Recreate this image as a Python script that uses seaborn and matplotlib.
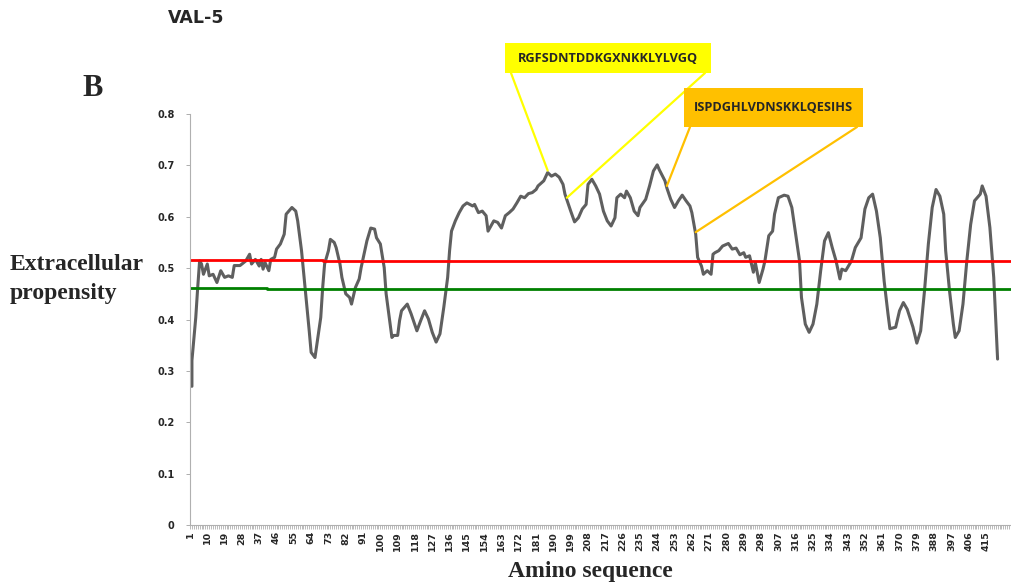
import numpy as np
import matplotlib
matplotlib.use("Agg")
import matplotlib.pyplot as plt
from matplotlib.patches import Rectangle, ConnectionPatch
import seaborn as sns

# Extracellular propensity profile along the VAL-5 sequence (residue, score)
residues = [1, 2, 2, 4, 5, 6, 7, 8, 10, 11, 13, 15, 17, 19, 21, 23, 24, 27, 30, 32,
            33, 35, 37, 38, 39, 40, 42, 43, 45, 46, 48, 50, 51, 54, 56, 57, 59, 61, 63, 64,
            66, 67, 69, 70, 71, 73, 74, 76, 77, 79, 80, 82, 84, 85, 87, 89, 90, 93, 95, 97,
            98, 100, 102, 103, 106, 107, 109, 110, 111, 114, 116, 119, 121, 123, 125, 127, 129, 131, 133, 135,
            136, 137, 139, 141, 143, 145, 148, 149, 151, 153, 155, 156, 159, 161, 163, 165, 167, 169, 171, 173,
            175, 177, 179, 181, 182, 185, 187, 189, 191, 193, 195, 196, 199, 201, 203, 205, 207, 208, 210, 212,
            214, 216, 218, 220, 222, 223, 225, 227, 228, 230, 232, 234, 235, 238, 240, 242, 244, 245, 248, 249,
            251, 253, 255, 257, 259, 261, 262, 264, 265, 267, 268, 270, 272, 273, 274, 276, 278, 281, 283, 285,
            287, 289, 290, 292, 294, 295, 297, 299, 300, 302, 304, 305, 307, 310, 312, 314, 316, 318, 319, 321,
            323, 325, 327, 329, 331, 333, 335, 337, 339, 340, 342, 345, 347, 350, 352, 354, 356, 358, 360, 362,
            364, 365, 368, 370, 372, 374, 377, 379, 381, 383, 385, 387, 389, 391, 393, 394, 396, 398, 399, 401,
            403, 405, 407, 409, 412, 413, 415, 417, 419, 421]
propensity = [0.271, 0.270, 0.320, 0.404, 0.462, 0.514, 0.508, 0.488, 0.508, 0.485, 0.488, 0.472, 0.495, 0.482, 0.485, 0.482, 0.505, 0.505, 0.514, 0.527,
              0.508, 0.517, 0.504, 0.517, 0.498, 0.511, 0.495, 0.517, 0.521, 0.537, 0.547, 0.566, 0.605, 0.618, 0.611, 0.592, 0.534, 0.456, 0.378, 0.336,
              0.326, 0.352, 0.404, 0.462, 0.508, 0.534, 0.556, 0.550, 0.540, 0.508, 0.482, 0.450, 0.443, 0.430, 0.462, 0.479, 0.501, 0.553, 0.578, 0.576,
              0.559, 0.547, 0.501, 0.450, 0.365, 0.369, 0.369, 0.398, 0.417, 0.430, 0.411, 0.378, 0.398, 0.417, 0.401, 0.375, 0.356, 0.372, 0.424, 0.482,
              0.534, 0.572, 0.592, 0.608, 0.621, 0.627, 0.621, 0.624, 0.608, 0.611, 0.602, 0.572, 0.592, 0.589, 0.578, 0.602, 0.608, 0.615, 0.627, 0.640,
              0.637, 0.645, 0.647, 0.653, 0.660, 0.670, 0.686, 0.679, 0.683, 0.677, 0.663, 0.644, 0.611, 0.590, 0.598, 0.615, 0.624, 0.663, 0.673, 0.660,
              0.644, 0.611, 0.592, 0.582, 0.598, 0.637, 0.644, 0.637, 0.650, 0.637, 0.611, 0.602, 0.618, 0.634, 0.660, 0.689, 0.701, 0.692, 0.670, 0.656,
              0.634, 0.618, 0.631, 0.642, 0.631, 0.621, 0.608, 0.566, 0.521, 0.504, 0.488, 0.495, 0.488, 0.527, 0.530, 0.534, 0.543, 0.548, 0.537, 0.539,
              0.526, 0.530, 0.521, 0.524, 0.492, 0.511, 0.472, 0.498, 0.514, 0.563, 0.572, 0.605, 0.637, 0.642, 0.640, 0.618, 0.566, 0.514, 0.443, 0.391,
              0.375, 0.391, 0.430, 0.495, 0.553, 0.569, 0.540, 0.514, 0.479, 0.498, 0.495, 0.514, 0.540, 0.559, 0.615, 0.637, 0.644, 0.611, 0.559, 0.475,
              0.411, 0.382, 0.385, 0.417, 0.433, 0.420, 0.385, 0.354, 0.378, 0.456, 0.547, 0.618, 0.653, 0.640, 0.605, 0.534, 0.456, 0.391, 0.365, 0.378,
              0.430, 0.514, 0.585, 0.631, 0.644, 0.660, 0.640, 0.579, 0.482, 0.323]

# Threshold levels (step changes along the sequence)
upper_pos = [1, 70, 428]
upper_val = [0.516, 0.514, 0.513]
lower_pos = [1, 41, 353, 428]
lower_val = [0.462, 0.460, 0.459, 0.459]

tick_pos = list(range(1, 416, 9))
tick_labels = [str(t) for t in tick_pos]
y_ticks = [0, 0.1, 0.2, 0.3, 0.4, 0.5, 0.6, 0.7, 0.8]
y_labels = ["0", "0.1", "0.2", "0.3", "0.4", "0.5", "0.6", "0.7", "0.8"]

# Peptide call-outs: text, fill colour, anchor residues for the two leader lines
peptides = ["RGFSDNTDDKGXNKKLYLVGQ", "ISPDGHLVDNSKKLQESIHS"]
peptide_colors = ["#ffff00", "#ffc000"]
peptide_anchor = [(187, 197), (249, 264)]

sns.set_theme(style="white")
plt.rcParams["font.family"] = ["DejaVu Sans"]

W, H = 1011, 588
fig = plt.figure(figsize=(W / 100, H / 100), dpi=100)
ax = fig.add_axes([190 / W, 1 - 525 / H, 822 / W, 411 / H])

sns.lineplot(x=residues, y=propensity, ax=ax, color="#5f5f5f", linewidth=2.2,
             sort=False, estimator=None)
ax.plot(upper_pos, upper_val, color="#ff0000", linewidth=2.0, drawstyle="steps-post")
ax.plot(lower_pos, lower_val, color="#008000", linewidth=2.0, drawstyle="steps-post")

ax.set_xlim(1, 428.5)
ax.set_ylim(0, 0.8)
ax.set_xticks(tick_pos)
ax.set_xticklabels(tick_labels, rotation=90, fontsize=6.8, fontweight="bold")
ax.set_xticks(np.arange(1, 428), minor=True)
ax.set_yticks(y_ticks)
ax.set_yticklabels(y_labels, fontsize=7, fontweight="bold")
ax.tick_params(axis="x", which="both", direction="out", length=3, width=0.5,
               color="#a0a0a0", pad=1.5, bottom=True)
ax.tick_params(axis="y", direction="out", length=3, width=0.6, color="#a0a0a0",
               pad=8, left=True)
for side in ["top", "right"]:
    ax.spines[side].set_visible(False)
for side in ["left", "bottom"]:
    ax.spines[side].set_color("#b0b0b0")
    ax.spines[side].set_linewidth(0.8)

# Titles and axis captions
fig.text(168 / W, 1 - 18 / H, "VAL-5", fontsize=12.5, fontweight="bold", va="center", ha="left")
fig.text(82 / W, 1 - 89 / H, "B", fontsize=22, fontweight="bold", va="center", ha="left",
         family=["Liberation Serif"])
fig.text(10 / W, 1 - 279 / H, "Extracellular\npropensity", fontsize=17, fontweight="bold",
         va="center", ha="left", family=["Liberation Serif"], linespacing=1.5)
fig.text(590 / W, 1 - 571 / H, "Amino sequence", fontsize=17, fontweight="bold",
         va="center", ha="center", family=["Liberation Serif"])

# Call-out boxes with leader lines to the profile
boxes = [(505, 43, 206, 30), (684, 88, 179, 39)]
for text, color, (bx, by, bw, bh), anchors in zip(peptides, peptide_colors, boxes, peptide_anchor):
    fig.add_artist(Rectangle((bx / W, 1 - (by + bh) / H), bw / W, bh / H,
                             transform=fig.transFigure, facecolor=color, edgecolor="none"))
    fig.text((bx + bw / 2) / W, 1 - (by + bh / 2) / H, text, fontsize=9.2, fontweight="bold",
             ha="center", va="center", family=["Open Sans"])
    starts = [(bx + 6, by + bh), (bx + bw - 6, by + bh)]
    for (sx, sy), r in zip(starts, anchors):
        yv = float(np.interp(r, residues, propensity))
        con = ConnectionPatch(xyA=(sx / W, 1 - sy / H), coordsA=fig.transFigure,
                              xyB=(r, yv + 0.004), coordsB=ax.transData,
                              color=color, linewidth=1.6)
        fig.add_artist(con)

fig.savefig("out.png", dpi=100, facecolor="white")
